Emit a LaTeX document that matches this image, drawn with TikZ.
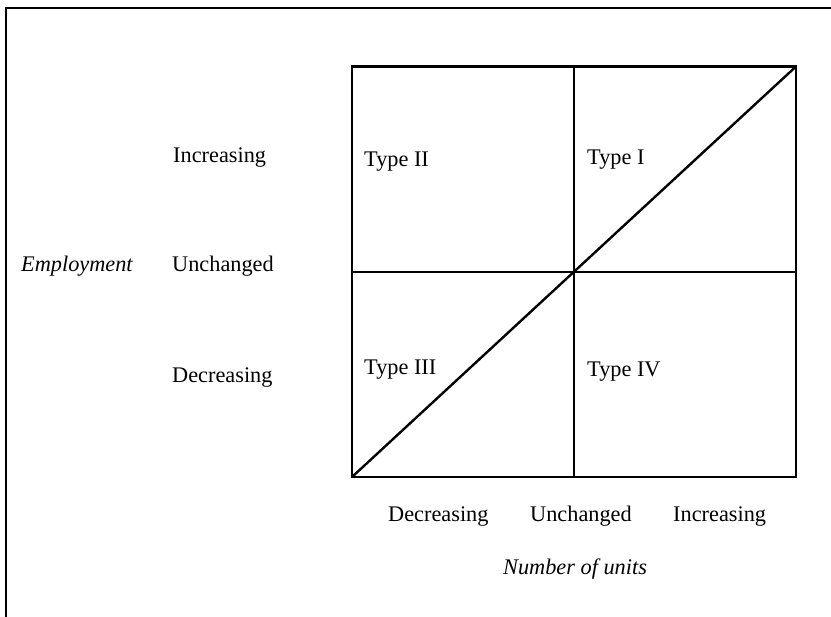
\documentclass[tikz,border=0pt]{standalone}
\usepackage{fontspec}
\setmainfont{Liberation Serif}
\begin{document}
\begin{tikzpicture}[x=1pt,y=-1pt,
  lbl/.style={inner sep=0pt,anchor=base west,font=\fontsize{22.3}{26}\selectfont},
  ilbl/.style={lbl,font=\fontsize{22.3}{26}\selectfont\itshape},
  frameline/.style={line width=2.8pt},
  boxline/.style={line width=2.4pt}]
\useasboundingbox (0,0) rectangle (831,617);
% outer frame (top and left)
\coordinate (fl) at (6,617);
\coordinate (ftl) at (6,8);
\coordinate (ftr) at (831,8);
\draw[frameline] (fl) -- (ftl) -- (ftr);
% box corners
\coordinate (bl) at (352,477);
\coordinate (tl) at (352,66.5);
\coordinate (tr) at (796,66.5);
\coordinate (br) at (796,477);
\coordinate (mt) at (574,66.5);
\coordinate (mb) at (574,477);
\coordinate (ml) at (352,272);
\coordinate (mr) at (796,272);
\draw[boxline] (bl) rectangle (tr);
\draw[boxline] (mt) -- (mb);
\draw[boxline] (ml) -- (mr);
\draw[boxline] (bl) -- (tr);
% labels
\node[ilbl] (emp) at (21,272) {Employment};
\node[lbl] (yinc) at (173,163) {Increasing};
\node[lbl] (yunc) at (172,272) {Unchanged};
\node[lbl] (ydec) at (172,383) {Decreasing};
\node[lbl] (t2) at (364,167) {Type II};
\node[lbl] (t1) at (587,165) {Type I};
\node[lbl] (t3) at (364,375) {Type III};
\node[lbl] (t4) at (587,377) {Type IV};
\node[lbl] (xdec) at (388,522) {Decreasing};
\node[lbl] (xunc) at (530,522) {Unchanged};
\node[lbl] (xinc) at (673,522) {Increasing};
\node[ilbl] (nu) at (503,575) {Number of units};
\end{tikzpicture}
\end{document}
